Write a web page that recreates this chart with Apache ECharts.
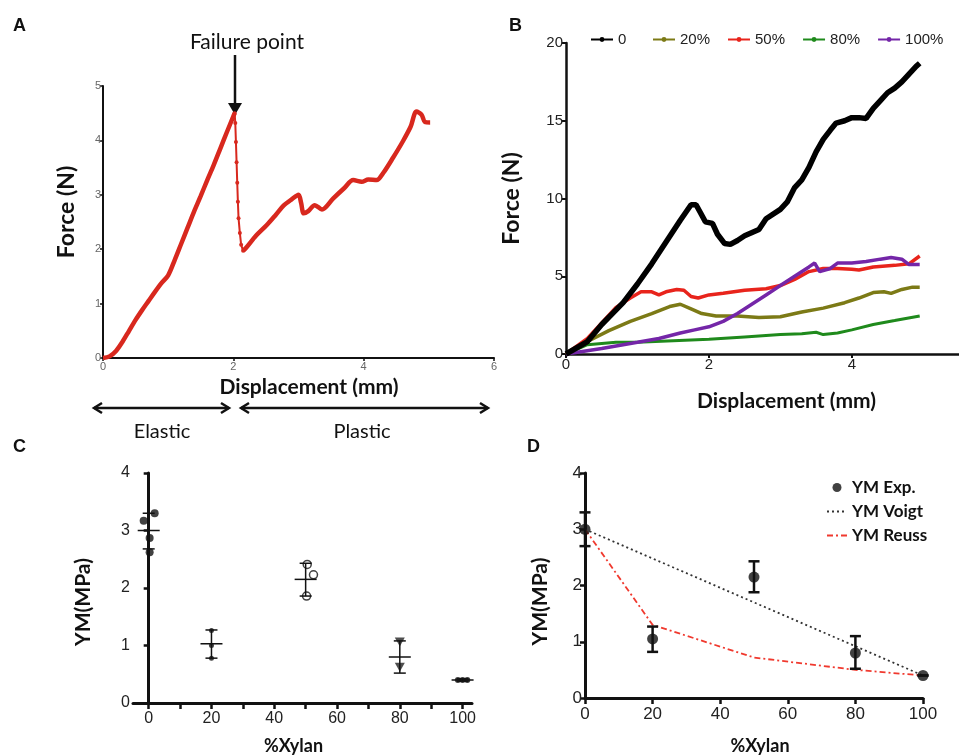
<!DOCTYPE html>
<html><head><meta charset="utf-8">
<script src="https://cdn.jsdelivr.net/npm/echarts@6/dist/echarts.min.js"></script>
<style>html,body{margin:0;padding:0;background:#fff}#c{width:959px;height:756px}</style>
</head><body><div id="c"></div>
<script>
// ---------- Panel A: single force-displacement curve ----------
const aRiseX = [0,0.1,0.2,0.3,0.4,0.5,0.6,0.7,0.8,0.9,1.0,1.1,1.2,1.3,1.4,1.5,1.6,1.7,1.8,1.9,2.02];
const aRiseY = [0,0.03,0.13,0.3,0.5,0.7,0.88,1.05,1.22,1.38,1.52,1.8,2.1,2.4,2.7,2.98,3.27,3.55,3.85,4.15,4.5];
const aDropX = [2.02,2.03,2.04,2.05,2.06,2.07,2.08,2.1,2.12,2.15];
const aDropY = [4.5,4.32,3.97,3.6,3.22,2.87,2.57,2.3,2.08,1.97];
const aPlastX = [2.15,2.2,2.35,2.51,2.65,2.77,2.9,3.0,3.04,3.08,3.15,3.25,3.36,3.53,3.7,3.84,3.97,4.07,4.2,4.3,4.45,4.6,4.72,4.81,4.89,4.94,5.02];
const aPlastY = [1.97,2.03,2.25,2.44,2.63,2.8,2.92,3.0,2.85,2.66,2.7,2.81,2.73,2.93,3.12,3.27,3.24,3.28,3.27,3.4,3.68,3.98,4.25,4.53,4.47,4.34,4.33];

// ---------- Panel B: curves by xylan content ----------
const bNames = ['0','20%','50%','80%','100%'];
const b0X = [0,0.3,0.5,0.8,1.0,1.2,1.4,1.6,1.75,1.82,1.88,1.95,2.05,2.12,2.22,2.3,2.4,2.5,2.7,2.8,3.0,3.1,3.2,3.3,3.4,3.5,3.6,3.7,3.78,3.9,4.0,4.1,4.2,4.3,4.4,4.5,4.6,4.7,4.8,4.9,4.95];
const b0Y = [0,0.8,1.9,3.3,4.5,5.8,7.2,8.6,9.6,9.6,9.1,8.5,8.4,7.7,7.1,7.05,7.3,7.6,8.0,8.7,9.3,9.8,10.7,11.2,12.0,13.0,13.8,14.4,14.85,15.0,15.2,15.2,15.15,15.8,16.3,16.8,17.1,17.5,18.0,18.5,18.7];
const b20X = [0,0.3,0.6,0.9,1.2,1.45,1.6,1.75,1.9,2.1,2.4,2.7,3.0,3.3,3.6,3.9,4.1,4.3,4.45,4.55,4.7,4.85,4.95];
const b20Y = [0,0.8,1.5,2.1,2.6,3.05,3.2,2.9,2.6,2.45,2.45,2.35,2.4,2.7,2.95,3.3,3.6,3.95,4.0,3.9,4.15,4.3,4.3];
const b50X = [0,0.3,0.5,0.7,0.9,1.05,1.2,1.3,1.4,1.55,1.65,1.75,1.85,2.0,2.2,2.5,2.8,3.0,3.2,3.4,3.6,3.8,4.0,4.1,4.3,4.6,4.8,4.95];
const b50Y = [0,1.0,2.0,3.0,3.6,4.0,4.0,3.8,4.0,4.15,4.1,3.7,3.6,3.8,3.9,4.1,4.2,4.4,4.8,5.3,5.5,5.5,5.45,5.4,5.6,5.7,5.8,6.3];
const b80X = [0,0.3,0.7,1.0,1.5,2.0,2.5,3.0,3.3,3.5,3.6,3.8,4.0,4.3,4.6,4.95];
const b80Y = [0,0.6,0.75,0.75,0.85,0.95,1.1,1.25,1.3,1.4,1.25,1.35,1.55,1.9,2.15,2.45];
const b100X = [0,0.5,1.0,1.3,1.6,1.8,2.0,2.2,2.4,2.6,2.8,3.0,3.2,3.4,3.48,3.55,3.7,3.8,4.0,4.2,4.4,4.55,4.7,4.8,4.95];
const b100Y = [0,0.35,0.75,1.0,1.35,1.55,1.75,2.1,2.6,3.2,3.8,4.4,5.0,5.6,5.85,5.3,5.5,5.85,5.85,5.95,6.1,6.2,6.1,5.75,5.75];

// ---------- Panel C: Young's modulus individual points ----------
const cGroupX = [0,20,50,80,100];
const cMean = [3.0,1.03,2.15,0.8,0.4];
const cLow = [2.68,0.78,1.86,0.52,0.38];
const cHigh = [3.3,1.27,2.43,1.08,0.42];
const c0X = [-1.6,1.9,0.3,0.3];      const c0Y = [3.17,3.3,2.87,2.62];
const c20X = [20,20,20];             const c20Y = [1.26,1.0,0.78];
const c50X = [50.5,52.5,50.3];       const c50Y = [2.41,2.23,1.86];
const c80X = [80,80];                const c80Y = [1.06,0.62];
const c100X = [98.5,100,101.5];      const c100Y = [0.4,0.4,0.4];

// ---------- Panel D: experiment vs models ----------
const dX = [0,20,50,80,100];
const dExp = [3.0,1.05,2.15,0.8,0.4];
const dExpLow = [2.7,0.82,1.88,0.52,0.4];
const dExpHigh = [3.3,1.27,2.43,1.1,0.4];
const dVoigt = [3.0,2.48,1.7,0.92,0.4];
const dReuss = [3.0,1.3,0.72,0.5,0.4];

const zip = (xs, ys) => xs.map((x, i) => [x, ys[i]]);

const tickFont = 'Liberation Sans';
const titleFont = 'Lato';

const chart = echarts.init(document.getElementById('c'), null, {renderer: 'canvas'});

function errSeries(axisIdx, xs, lo, hi, mean, capW, meanW, lw) {
  return {
    type: 'custom', xAxisIndex: axisIdx, yAxisIndex: axisIdx, z: 5,
    data: xs.map((x, i) => [x, lo[i], hi[i], mean[i]]),
    renderItem: function (params, api) {
      const x = api.value(0);
      const pl = api.coord([x, api.value(1)]);
      const ph = api.coord([x, api.value(2)]);
      const pm = api.coord([x, api.value(3)]);
      const st = {stroke: '#111', lineWidth: lw};
      const ch = [
        {type: 'line', shape: {x1: pl[0], y1: pl[1], x2: ph[0], y2: ph[1]}, style: st},
        {type: 'line', shape: {x1: pl[0] - capW / 2, y1: pl[1], x2: pl[0] + capW / 2, y2: pl[1]}, style: st},
        {type: 'line', shape: {x1: ph[0] - capW / 2, y1: ph[1], x2: ph[0] + capW / 2, y2: ph[1]}, style: st}
      ];
      if (meanW > 0) ch.push({type: 'line', shape: {x1: pm[0] - meanW / 2, y1: pm[1], x2: pm[0] + meanW / 2, y2: pm[1]}, style: st});
      return {type: 'group', children: ch};
    }
  };
}

const axisName = (sz, pad) => ({fontFamily: titleFont, fontWeight: 'bold', fontSize: sz, color: '#111', padding: pad || 0});
const downTri = 'path://M0,0 L10,0 L5,9 Z';

const option = {
  animation: false,
  backgroundColor: '#fff',
  grid: [
    {left: 103, top: 86, width: 391, height: 272},
    {left: 566, top: 43, width: 393, height: 311},
    {left: 133, top: 473, width: 339, height: 230},
    {left: 585, top: 473, width: 338, height: 225}
  ],
  xAxis: [
    {gridIndex: 0, type: 'value', min: 0, max: 6, interval: 2, splitLine: {show: false},
     axisLine: {lineStyle: {color: '#111', width: 2}}, axisTick: {length: 3, lineStyle: {color: '#111', width: 1.5}},
     axisLabel: {fontFamily: tickFont, fontSize: 11, color: '#666', margin: 3},
     name: 'Displacement (mm)', nameLocation: 'middle', nameGap: 19, nameTextStyle: axisName(21, [0, 0, 0, 21])},
    {gridIndex: 1, type: 'value', min: 0, max: 5.5, interval: 2, splitLine: {show: false},
     axisLine: {lineStyle: {color: '#111', width: 2.5}}, axisTick: {length: 4, customValues: [0,2,4], lineStyle: {color: '#111', width: 2}},
     axisLabel: {fontFamily: tickFont, fontSize: 15, color: '#222', margin: 3, customValues: [0,2,4]},
     name: 'Displacement (mm)', nameLocation: 'middle', nameGap: 37, nameTextStyle: axisName(21, [0, 0, 0, 48])},
    {gridIndex: 2, type: 'value', min: -5, max: 103, splitLine: {show: false},
     axisLine: {lineStyle: {color: '#111', width: 3}}, axisTick: {length: 6, customValues: [0,10,20,30,40,50,60,70,80,90,100], lineStyle: {color: '#111', width: 2.5}},
     axisLabel: {fontFamily: tickFont, fontSize: 16, color: '#222', margin: 8, customValues: [0,20,40,60,80,100]},
     name: '%Xylan', nameLocation: 'middle', nameGap: 34, nameTextStyle: axisName(18, [0, 18, 0, 0])},
    {gridIndex: 3, type: 'value', min: 0, max: 100, interval: 20, splitLine: {show: false},
     axisLine: {lineStyle: {color: '#111', width: 3}}, axisTick: {length: 6, lineStyle: {color: '#111', width: 2.5}},
     axisLabel: {fontFamily: tickFont, fontSize: 17, color: '#222', margin: 8},
     name: '%Xylan', nameLocation: 'middle', nameGap: 39, nameTextStyle: axisName(18, [0, 0, 0, 12])}
  ],
  yAxis: [
    {gridIndex: 0, type: 'value', min: 0, max: 5, interval: 1, splitLine: {show: false},
     axisLine: {show: true, lineStyle: {color: '#111', width: 2}}, axisTick: {show: true, length: 3, lineStyle: {color: '#111', width: 1.5}},
     axisLabel: {fontFamily: tickFont, fontSize: 11, color: '#666', margin: 2},
     name: 'Force (N)', nameLocation: 'middle', nameGap: 25, nameTextStyle: axisName(23, [0, 0, 0, 20])},
    {gridIndex: 1, type: 'value', min: 0, max: 20, interval: 5, splitLine: {show: false},
     axisLine: {show: true, lineStyle: {color: '#111', width: 2.5}}, axisTick: {show: true, length: 4, lineStyle: {color: '#111', width: 2}},
     axisLabel: {fontFamily: tickFont, fontSize: 15, color: '#222', margin: 3},
     name: 'Force (N)', nameLocation: 'middle', nameGap: 43, nameTextStyle: axisName(23, [0, 0, 0, 0])},
    {gridIndex: 2, type: 'value', min: 0, max: 4, interval: 1, splitLine: {show: false},
     axisLine: {show: true, lineStyle: {color: '#111', width: 3}}, axisTick: {show: true, length: 5, lineStyle: {color: '#111', width: 2.5}},
     axisLabel: {fontFamily: tickFont, fontSize: 16, color: '#222', margin: 3},
     name: 'YM(MPa)', nameLocation: 'middle', nameGap: 39, nameTextStyle: axisName(21, [0, 28, 0, 0])},
    {gridIndex: 3, type: 'value', min: 0, max: 4, interval: 1, splitLine: {show: false},
     axisLine: {show: true, lineStyle: {color: '#111', width: 3}}, axisTick: {show: true, length: 5, lineStyle: {color: '#111', width: 2.5}},
     axisLabel: {fontFamily: tickFont, fontSize: 17, color: '#222', margin: 3},
     name: 'YM(MPa)', nameLocation: 'middle', nameGap: 34, nameTextStyle: axisName(21, [0, 32, 0, 0])}
  ],
  legend: [
    {data: ['0'], left: 590, top: 32, padding: 0, itemWidth: 22, itemHeight: 6,
     textStyle: {fontFamily: tickFont, fontSize: 15, color: '#222'}, lineStyle: {width: 2}},
    {data: ['20%','50%','80%','100%'], left: 652, top: 32, padding: 0, itemWidth: 22, itemHeight: 6, itemGap: 17,
     textStyle: {fontFamily: tickFont, fontSize: 15, color: '#222'}, lineStyle: {width: 2}},
    {data: ['YM Exp.', {name: 'YM Voigt', itemStyle: {opacity: 0}}, {name: 'YM Reuss', itemStyle: {opacity: 0}}],
     orient: 'vertical', left: 826, top: 479, padding: 0, itemWidth: 20, itemHeight: 9, itemGap: 7,
     textStyle: {fontFamily: titleFont, fontWeight: 'bold', fontSize: 17, color: '#111'}}
  ],
  series: [
    // A
    {type: 'line', name: 'A rise', xAxisIndex: 0, yAxisIndex: 0, data: zip(aRiseX, aRiseY), symbol: 'none', smooth: 0.3,
     lineStyle: {color: '#d8281e', width: 4.5}},
    {type: 'line', name: 'A drop', xAxisIndex: 0, yAxisIndex: 0, data: zip(aDropX, aDropY), symbol: 'circle', symbolSize: 4, showAllSymbol: true,
     itemStyle: {color: '#d8281e'}, lineStyle: {color: '#d8281e', width: 2}},
    {type: 'line', name: 'A plastic', xAxisIndex: 0, yAxisIndex: 0, data: zip(aPlastX, aPlastY), symbol: 'none', smooth: 0.3,
     lineStyle: {color: '#d8281e', width: 4.5}},
    // B
    {type: 'line', name: '0', xAxisIndex: 1, yAxisIndex: 1, data: zip(b0X, b0Y), symbol: 'circle', symbolSize: 4, showSymbol: false,
     itemStyle: {color: '#000'}, lineStyle: {color: '#000', width: 5.5}, z: 6},
    {type: 'line', name: '20%', xAxisIndex: 1, yAxisIndex: 1, data: zip(b20X, b20Y), symbol: 'circle', symbolSize: 4, showSymbol: false,
     itemStyle: {color: '#7c7a16'}, lineStyle: {color: '#7c7a16', width: 3.5}},
    {type: 'line', name: '50%', xAxisIndex: 1, yAxisIndex: 1, data: zip(b50X, b50Y), symbol: 'circle', symbolSize: 4, showSymbol: false,
     itemStyle: {color: '#e8241c'}, lineStyle: {color: '#e8241c', width: 3.5}},
    {type: 'line', name: '80%', xAxisIndex: 1, yAxisIndex: 1, data: zip(b80X, b80Y), symbol: 'circle', symbolSize: 4, showSymbol: false,
     itemStyle: {color: '#1f8a1c'}, lineStyle: {color: '#1f8a1c', width: 3}},
    {type: 'line', name: '100%', xAxisIndex: 1, yAxisIndex: 1, data: zip(b100X, b100Y), symbol: 'circle', symbolSize: 4, showSymbol: false,
     itemStyle: {color: '#7426a8'}, lineStyle: {color: '#7426a8', width: 3.5}, z: 4},
    // C
    errSeries(2, cGroupX, cLow, cHigh, cMean, 12, 22, 1.5),
    {type: 'scatter', name: 'c0', xAxisIndex: 2, yAxisIndex: 2, data: zip(c0X, c0Y), symbol: 'circle', symbolSize: 8, itemStyle: {color: '#111'}},
    {type: 'scatter', name: 'c20', xAxisIndex: 2, yAxisIndex: 2, data: zip(c20X, c20Y), symbol: 'circle', symbolSize: 5, itemStyle: {color: '#111'}},
    {type: 'scatter', name: 'c50', xAxisIndex: 2, yAxisIndex: 2, data: zip(c50X, c50Y), symbol: 'circle', symbolSize: 8,
     itemStyle: {color: '#fff', borderColor: '#111', borderWidth: 1.5}},
    {type: 'scatter', name: 'c80', xAxisIndex: 2, yAxisIndex: 2, data: zip(c80X, c80Y), symbol: downTri, symbolSize: [10, 9], itemStyle: {color: '#222'}},
    {type: 'scatter', name: 'c100', xAxisIndex: 2, yAxisIndex: 2, data: zip(c100X, c100Y), symbol: 'circle', symbolSize: 6, itemStyle: {color: '#111'}},
    // D
    {type: 'line', name: 'YM Voigt', xAxisIndex: 3, yAxisIndex: 3, data: zip(dX, dVoigt), symbol: 'none',
     lineStyle: {color: '#333', width: 1.8, type: [2, 3]}, itemStyle: {color: '#333'}},
    {type: 'line', name: 'YM Reuss', xAxisIndex: 3, yAxisIndex: 3, data: zip(dX, dReuss), symbol: 'none',
     lineStyle: {color: '#f0392e', width: 1.8, type: [6, 3, 2, 3]}, itemStyle: {color: '#f0392e'}},
    errSeries(3, dX, dExpLow, dExpHigh, dExp, 11, 0, 2.5),
    {type: 'scatter', name: 'YM Exp.', xAxisIndex: 3, yAxisIndex: 3, data: zip(dX, dExp), symbol: 'circle', symbolSize: 11,
     itemStyle: {color: '#111'}, z: 6}
  ],
  graphic: [
    {type: 'text', left: 13, top: 17, style: {text: 'A', fontFamily: tickFont, fontWeight: 'bold', fontSize: 18, fill: '#111'}},
    {type: 'text', left: 509, top: 17, style: {text: 'B', fontFamily: tickFont, fontWeight: 'bold', fontSize: 18, fill: '#111'}},
    {type: 'text', left: 13, top: 438, style: {text: 'C', fontFamily: tickFont, fontWeight: 'bold', fontSize: 18, fill: '#111'}},
    {type: 'text', left: 527, top: 438, style: {text: 'D', fontFamily: tickFont, fontWeight: 'bold', fontSize: 18, fill: '#111'}},
    {type: 'text', x: 247, y: 42, style: {text: 'Failure point', fontFamily: titleFont, fontSize: 21, fill: '#111', textAlign: 'center', textVerticalAlign: 'middle'}},
    {type: 'line', shape: {x1: 235, y1: 55, x2: 235, y2: 108}, style: {stroke: '#111', lineWidth: 2.5}},
    {type: 'polygon', shape: {points: [[228, 103], [242, 103], [235, 115]]}, style: {fill: '#111'}},
    // Elastic / Plastic arrows
    {type: 'line', shape: {x1: 94, y1: 408, x2: 229, y2: 408}, style: {stroke: '#111', lineWidth: 2.5}},
    {type: 'polyline', shape: {points: [[102, 403], [94, 408], [102, 413]]}, style: {stroke: '#111', lineWidth: 2.5, fill: null}},
    {type: 'polyline', shape: {points: [[221, 403], [229, 408], [221, 413]]}, style: {stroke: '#111', lineWidth: 2.5, fill: null}},
    {type: 'line', shape: {x1: 241, y1: 408, x2: 488, y2: 408}, style: {stroke: '#111', lineWidth: 2.5}},
    {type: 'polyline', shape: {points: [[249, 403], [241, 408], [249, 413]]}, style: {stroke: '#111', lineWidth: 2.5, fill: null}},
    {type: 'polyline', shape: {points: [[480, 403], [488, 408], [480, 413]]}, style: {stroke: '#111', lineWidth: 2.5, fill: null}},
    {type: 'text', x: 162, y: 432, style: {text: 'Elastic', fontFamily: titleFont, fontSize: 20, fill: '#111', textAlign: 'center', textVerticalAlign: 'middle'}},
    {type: 'text', x: 362, y: 432, style: {text: 'Plastic', fontFamily: titleFont, fontSize: 20, fill: '#111', textAlign: 'center', textVerticalAlign: 'middle'}}
  ]
};
chart.setOption(option);
</script>
</body></html>
